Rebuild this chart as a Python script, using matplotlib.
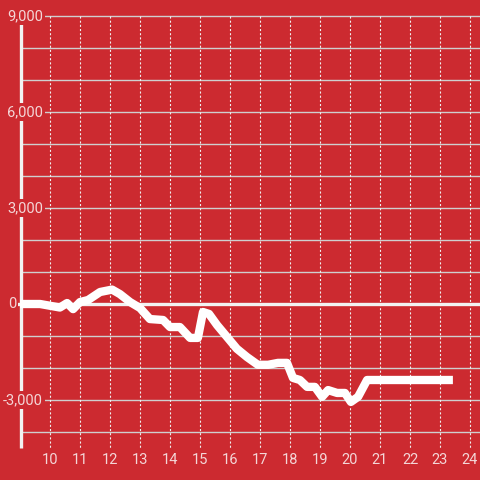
import matplotlib
matplotlib.use("Agg")
import matplotlib.pyplot as plt

# data (hours, value)
hours = [9.0, 9.67, 10.33, 10.57, 10.77, 11.0, 11.27, 11.67, 12.07, 12.33, 12.67, 13.0,
         13.33, 13.77, 14.0, 14.33, 14.67, 14.93, 15.1, 15.3, 15.57, 15.9, 16.23, 16.57,
         16.93, 17.27, 17.6, 17.9, 18.1, 18.33, 18.57, 18.83, 19.07, 19.27, 19.57, 19.83,
         20.03, 20.27, 20.57, 20.77, 23.43]
values = [0, 0, -110, 30, -160, 60, 125, 375, 450, 310, 60, -125,
          -470, -500, -720, -720, -1060, -1060, -250, -310, -660, -1030, -1400, -1660,
          -1900, -1900, -1840, -1840, -2310, -2375, -2590, -2590, -2900, -2690, -2780, -2780,
          -3060, -2900, -2375, -2375, -2375]

x_ticks = list(range(10, 25))
y_ticks = [-3000, 0, 3000, 6000, 9000]
y_labels = ["-3,000", "0", "3,000", "6,000", "9,000"]
y_grid = list(range(-4000, 9001, 1000))

BG = "#cc2a30"
TXT = "#f4d6d7"

plt.rcParams['lines.scale_dashes'] = False
fig = plt.figure(figsize=(4.8, 4.8), dpi=100, facecolor=BG)
ax = fig.add_axes([0, 0, 1, 1])
ax.set_facecolor(BG)
ax.set_xlim(8 + 1/3, 24 + 1/3)
ax.set_ylim(-5500, 9500)
ax.axis("off")

# horizontal gridlines
for g in y_grid:
    if g == 0:
        continue
    ax.plot([9.067, 24.4], [g, g], color="#cfcfcf", lw=1.0, zorder=1)
# vertical dotted gridlines
for t in x_ticks:
    ax.plot([t, t], [9000, -4500], color="#f0f0f0", lw=0.8, dashes=(1.5, 1.5), zorder=1)

# zero line
ax.plot([8.9, 24.4], [0, 0], color="#f2f2f2", lw=2.4, zorder=2, solid_capstyle="butt")
# left axis line
ax.plot([9.033, 9.033], [9000, -4500], color="#f2f2f2", lw=2.4, zorder=2, solid_capstyle="butt")

# data line
ax.plot(hours, values, color="white", lw=6, zorder=4, solid_capstyle="butt",
        solid_joinstyle="round")

# y labels
for v, lab in zip(y_ticks, y_labels):
    xr = 8.87 if v == 0 else 9.77
    ax.text(xr, v, lab, ha="right", va="center", color=TXT, fontsize=10.5,
            family="Roboto", zorder=3,
            bbox=dict(boxstyle="square,pad=0.15", fc=BG, ec="none"))
# x labels
for t in x_ticks:
    ax.text(t, -4890, str(t), ha="center", va="center", color=TXT, fontsize=10.5,
            family="Roboto", zorder=3)

fig.savefig("out.png", dpi=100, facecolor=BG)
